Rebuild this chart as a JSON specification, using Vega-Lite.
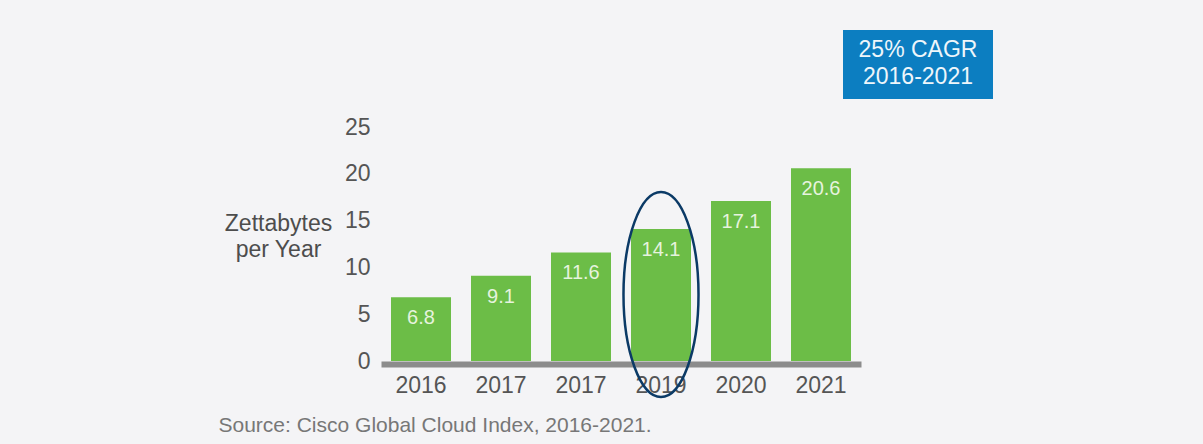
{
  "$schema": "https://vega.github.io/schema/vega-lite/v6.json",
  "width": 480,
  "height": 234,
  "autosize": {"type": "none"},
  "padding": {"left": 381, "top": 127, "right": 342, "bottom": 83},
  "background": "#f4f4f6",
  "config": {
    "view": {"stroke": null},
    "font": "Liberation Sans"
  },
  "datasets": {
    "bars": [
      {"slot": "2016", "value": 6.8},
      {"slot": "2017", "value": 9.1},
      {"slot": "2017#2", "value": 11.6},
      {"slot": "2019", "value": 14.1},
      {"slot": "2020", "value": 17.1},
      {"slot": "2021", "value": 20.6}
    ],
    "highlight": [{"slot": "2019", "center": 7.1}],
    "note": [{"text": "25% CAGR\n2016-2021"}]
  },
  "layer": [
    {
      "data": {"name": "bars"},
      "encoding": {
        "x": {
          "field": "slot",
          "type": "ordinal",
          "sort": null,
          "scale": {"paddingInner": 0.25, "paddingOuter": 0.125},
          "axis": {
            "labelExpr": "slice(datum.label, 0, 4)",
            "labelAngle": 0,
            "labelFontSize": 23,
            "labelColor": "#555555",
            "labelPadding": 10,
            "ticks": false,
            "tickSize": 0,
            "domainColor": "#8c8c8c",
            "domainWidth": 6,
            "offset": 3,
            "title": "Source: Cisco Global Cloud Index, 2016-2021.",
            "titleFontSize": 21,
            "titleFontWeight": "normal",
            "titleColor": "#777777",
            "titleAnchor": "start",
            "titleAlign": "left",
            "titleBaseline": "middle",
            "titleX": -163,
            "titleY": 61
          }
        }
      },
      "layer": [
        {
          "mark": {"type": "bar", "color": "#6cbd47"},
          "encoding": {
            "y": {
              "field": "value",
              "type": "quantitative",
              "scale": {"domain": [0, 25], "nice": false, "zero": true},
              "axis": {
                "values": [0, 5, 10, 15, 20, 25],
                "grid": false,
                "domain": false,
                "ticks": false,
                "tickSize": 0,
                "labelFontSize": 23,
                "labelColor": "#555555",
                "labelPadding": 11,
                "title": ["Zettabytes", "per Year"],
                "titleAngle": 0,
                "titleFontSize": 23,
                "titleFontWeight": "normal",
                "titleColor": "#4d4d4d",
                "titleAlign": "center",
                "titleBaseline": "alphabetic",
                "titleLineHeight": 26,
                "titleX": -103,
                "titleY": 103
              }
            }
          }
        },
        {
          "mark": {
            "type": "text",
            "baseline": "middle",
            "dy": 21,
            "fontSize": 20,
            "color": "#e6f3de"
          },
          "encoding": {
            "y": {"field": "value", "type": "quantitative", "scale": {"domain": [0, 25], "nice": false, "zero": true}},
            "text": {"field": "value", "type": "quantitative", "format": ".1f"}
          }
        },
        {
          "data": {"name": "highlight"},
          "mark": {
            "type": "point",
            "shape": "M 0 -1 C 0.2021 -1 0.366 -0.5523 0.366 0 C 0.366 0.5523 0.2021 1 0 1 C -0.2021 1 -0.366 0.5523 -0.366 0 C -0.366 -0.5523 -0.2021 -1 0 -1 Z",
            "filled": false,
            "stroke": "#0b3a66",
            "strokeWidth": 2.5,
            "opacity": 1,
            "size": 42025
          },
          "encoding": {
            "y": {"field": "center", "type": "quantitative", "scale": {"domain": [0, 25], "nice": false, "zero": true}}
          }
        }
      ]
    },
    {
      "data": {"name": "note"},
      "layer": [
        {
          "mark": {"type": "rect", "color": "#0c7ec1"},
          "encoding": {
            "x": {"datum": 5.775, "type": "quantitative", "scale": {"domain": [0, 6]}, "axis": null},
            "x2": {"datum": 7.65},
            "y": {"datum": 35.36, "type": "quantitative", "scale": {"domain": [0, 25], "nice": false, "zero": true}},
            "y2": {"datum": 27.99}
          }
        },
        {
          "mark": {
            "type": "text",
            "lineBreak": "\n",
            "lineHeight": 27,
            "fontSize": 23,
            "color": "#eef6fb",
            "align": "center",
            "baseline": "middle"
          },
          "encoding": {
            "x": {"datum": 6.7125, "type": "quantitative", "scale": {"domain": [0, 6]}, "axis": null},
            "y": {"datum": 33.23, "type": "quantitative", "scale": {"domain": [0, 25], "nice": false, "zero": true}},
            "text": {"field": "text", "type": "nominal"}
          }
        }
      ]
    }
  ],
  "resolve": {"scale": {"x": "independent"}}
}
